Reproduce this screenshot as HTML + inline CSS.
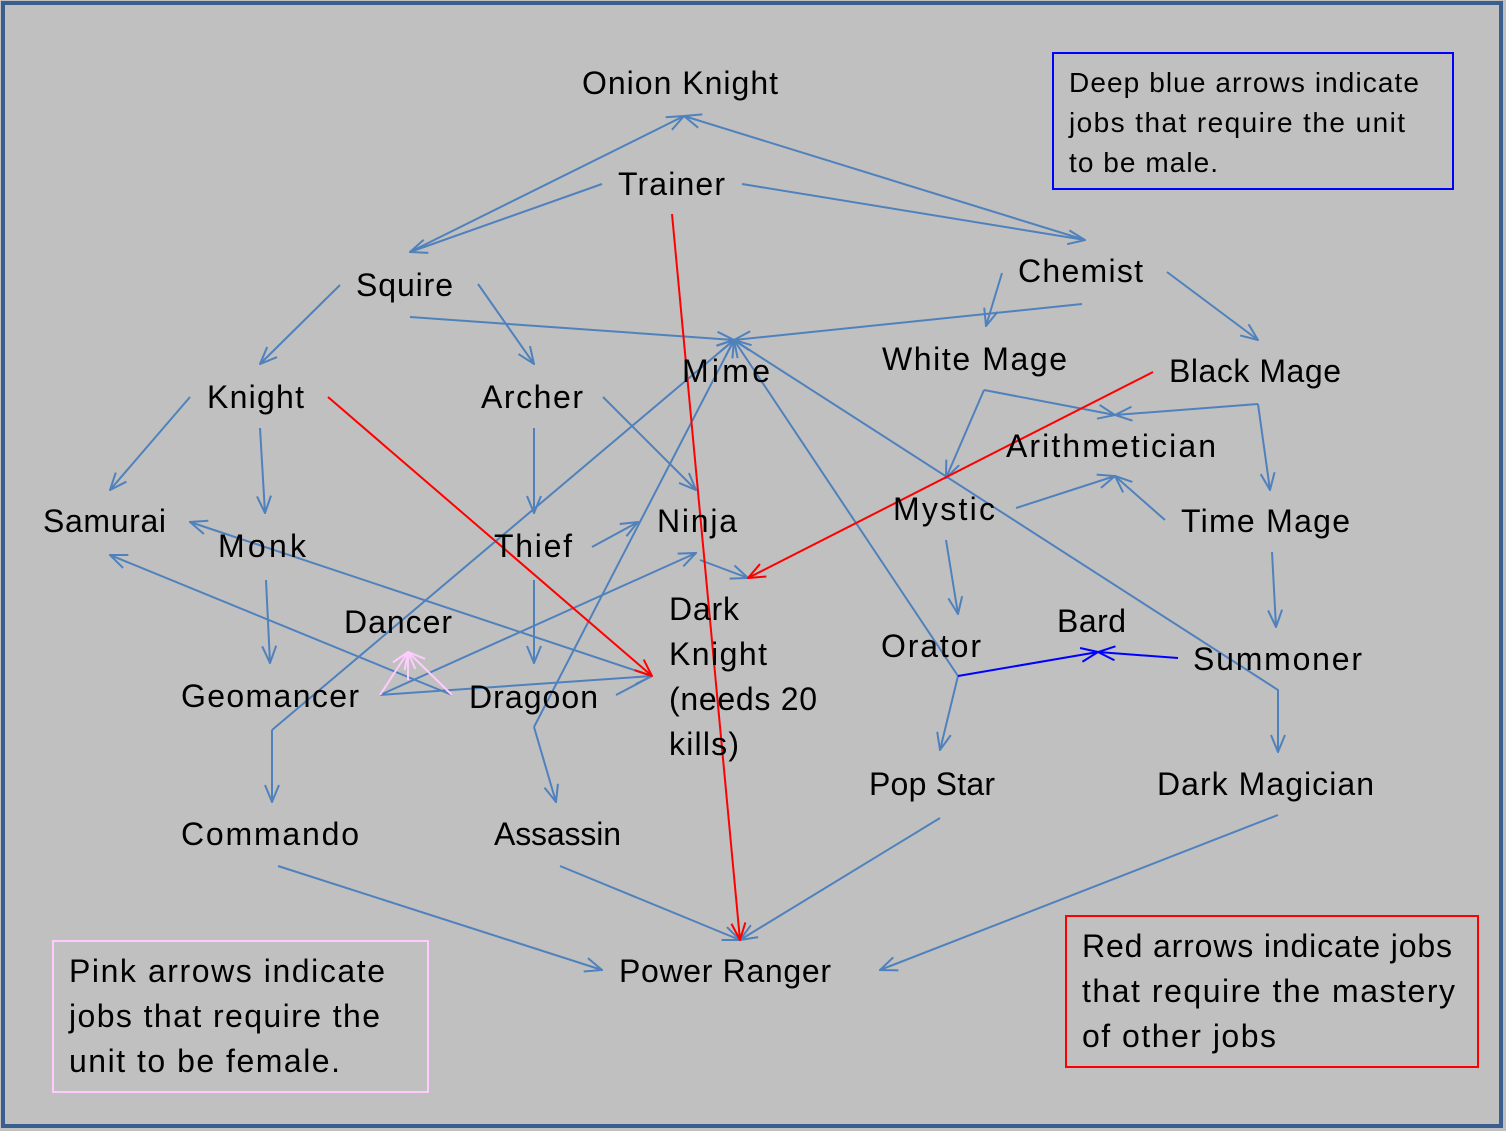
<!DOCTYPE html>
<html><head><meta charset="utf-8"><style>
html,body{margin:0;padding:0;background:#c0c0c0;}
svg{display:block;}
text{font-family:"Liberation Sans",sans-serif;font-size:32px;fill:#000;}
.b{font-size:28px;}
</style></head><body>
<svg width="1506" height="1131" viewBox="0 0 1506 1131" xmlns="http://www.w3.org/2000/svg">
<defs>
<marker id="a" viewBox="0 0 20 20" refX="19" refY="10" markerWidth="20" markerHeight="20" markerUnits="userSpaceOnUse" orient="auto"><path d="M2,3 L19,10 L2,17" fill="none" stroke="#4f81bd" stroke-width="2"/></marker>
<marker id="d" viewBox="0 0 20 20" refX="19" refY="10" markerWidth="20" markerHeight="20" markerUnits="userSpaceOnUse" orient="auto"><path d="M2,3 L19,10 L2,17" fill="none" stroke="#0000ff" stroke-width="2"/></marker>
<marker id="r" viewBox="0 0 20 20" refX="19" refY="10" markerWidth="20" markerHeight="20" markerUnits="userSpaceOnUse" orient="auto"><path d="M2,3 L19,10 L2,17" fill="none" stroke="#ff0000" stroke-width="2"/></marker>
<marker id="p" viewBox="0 0 20 20" refX="19" refY="10" markerWidth="20" markerHeight="20" markerUnits="userSpaceOnUse" orient="auto"><path d="M2,3 L19,10 L2,17" fill="none" stroke="#ffccff" stroke-width="2"/></marker>
</defs>
<rect x="0" y="0" width="1506" height="1131" fill="#c0c0c0"/>
<rect x="3" y="3" width="1498" height="1123" fill="none" stroke="#3a5f8f" stroke-width="4"/>

<g stroke="#4f81bd" stroke-width="2" fill="none">
<line x1="410" y1="252" x2="684" y2="116" marker-end="url(#a)"/>
<line x1="602" y1="184" x2="410" y2="252" marker-end="url(#a)"/>
<line x1="1085" y1="240" x2="684" y2="116" marker-end="url(#a)"/>
<line x1="742" y1="184" x2="1085" y2="240" marker-end="url(#a)"/>
<line x1="340" y1="285" x2="260" y2="364" marker-end="url(#a)"/>
<line x1="478" y1="284" x2="534" y2="364" marker-end="url(#a)"/>
<line x1="410" y1="317" x2="734" y2="340" marker-end="url(#a)"/>
<line x1="1082" y1="304" x2="734" y2="340" marker-end="url(#a)"/>
<line x1="1002" y1="273" x2="986" y2="326" marker-end="url(#a)"/>
<line x1="1167" y1="272" x2="1258" y2="340" marker-end="url(#a)"/>
<line x1="190" y1="397" x2="110" y2="490" marker-end="url(#a)"/>
<line x1="260" y1="428" x2="265" y2="513" marker-end="url(#a)"/>
<line x1="534" y1="428" x2="534" y2="513" marker-end="url(#a)"/>
<line x1="603" y1="397" x2="696" y2="490" marker-end="url(#a)"/>
<line x1="592" y1="547" x2="638" y2="522" marker-end="url(#a)"/>
<line x1="534" y1="580" x2="534" y2="663" marker-end="url(#a)"/>
<line x1="266" y1="580" x2="270" y2="663" marker-end="url(#a)"/>
<line x1="652" y1="676" x2="190" y2="522" marker-end="url(#a)"/>
<line x1="452" y1="695" x2="110" y2="555" marker-end="url(#a)"/>
<line x1="380" y1="695" x2="696" y2="553" marker-end="url(#a)"/>
<line x1="380" y1="695" x2="652" y2="676" marker-end="url(#a)"/>
<line x1="616" y1="695" x2="652" y2="676"/>
<line x1="272" y1="730" x2="734" y2="340" marker-end="url(#a)"/>
<line x1="272" y1="730" x2="272" y2="802" marker-end="url(#a)"/>
<line x1="534" y1="727" x2="734" y2="340" marker-end="url(#a)"/>
<line x1="534" y1="727" x2="556" y2="802" marker-end="url(#a)"/>
<line x1="700" y1="560" x2="748" y2="578" marker-end="url(#a)"/>
<line x1="958" y1="676" x2="734" y2="340" marker-end="url(#a)"/>
<line x1="958" y1="676" x2="940" y2="750" marker-end="url(#a)"/>
<polyline points="734,340 1278,690 1278,752" marker-end="url(#a)"/>
<line x1="984" y1="390" x2="946" y2="478" marker-end="url(#a)"/>
<line x1="984" y1="390" x2="1115" y2="415" marker-end="url(#a)"/>
<line x1="1258" y1="404" x2="1115" y2="415" marker-end="url(#a)"/>
<line x1="1258" y1="404" x2="1270" y2="490" marker-end="url(#a)"/>
<line x1="1016" y1="508" x2="1115" y2="476" marker-end="url(#a)"/>
<line x1="1165" y1="520" x2="1115" y2="476" marker-end="url(#a)"/>
<line x1="946" y1="540" x2="958" y2="614" marker-end="url(#a)"/>
<line x1="1272" y1="552" x2="1276" y2="627" marker-end="url(#a)"/>
<line x1="278" y1="866" x2="602" y2="970" marker-end="url(#a)"/>
<line x1="560" y1="866" x2="740" y2="940" marker-end="url(#a)"/>
<line x1="940" y1="818" x2="740" y2="940" marker-end="url(#a)"/>
<line x1="1278" y1="815" x2="880" y2="970" marker-end="url(#a)"/>
</g>
<g stroke="#0000ff" stroke-width="2">
<line x1="958" y1="676" x2="1098" y2="652" marker-end="url(#d)"/>
<line x1="1178" y1="658" x2="1098" y2="652" marker-end="url(#d)"/>
</g>
<g stroke="#ff0000" stroke-width="2">
<line x1="672" y1="214" x2="740" y2="940" marker-end="url(#r)"/>
<line x1="328" y1="397" x2="652" y2="676" marker-end="url(#r)"/>
<line x1="1153" y1="372" x2="748" y2="578" marker-end="url(#r)"/>
</g>
<g stroke="#ffccff" stroke-width="2">
<line x1="380" y1="695" x2="408" y2="652" marker-end="url(#p)"/>
<line x1="452" y1="695" x2="408" y2="652" marker-end="url(#p)"/>
<line x1="408" y1="680" x2="408" y2="652"/>
</g>

<text x="582" y="94" textLength="196">Onion Knight</text>
<text x="618" y="195" textLength="107">Trainer</text>
<text x="356" y="296" textLength="97">Squire</text>
<text x="1018" y="282" textLength="125">Chemist</text>
<text x="682" y="382" textLength="88">Mime</text>
<text x="882" y="370" textLength="185">White Mage</text>
<text x="1169" y="382" textLength="172">Black Mage</text>
<text x="207" y="408" textLength="97">Knight</text>
<text x="481" y="408" textLength="102">Archer</text>
<text x="1006" y="457" textLength="210">Arithmetician</text>
<text x="43" y="532" textLength="123">Samurai</text>
<text x="218" y="557" textLength="88">Monk</text>
<text x="494" y="557" textLength="78">Thief</text>
<text x="657" y="532" textLength="80">Ninja</text>
<text x="893" y="520" textLength="102">Mystic</text>
<text x="1181" y="532" textLength="169">Time Mage</text>
<text x="344" y="633" textLength="108">Dancer</text>
<text x="669" y="620" textLength="70">Dark</text>
<text x="669" y="665" textLength="98">Knight</text>
<text x="669" y="710" textLength="148">(needs 20</text>
<text x="669" y="755" textLength="70">kills)</text>
<text x="1057" y="632" textLength="69">Bard</text>
<text x="881" y="657" textLength="100">Orator</text>
<text x="1193" y="670" textLength="169">Summoner</text>
<text x="181" y="707" textLength="178">Geomancer</text>
<text x="469" y="708" textLength="129">Dragoon</text>
<text x="869" y="795" textLength="126">Pop Star</text>
<text x="1157" y="795" textLength="217">Dark Magician</text>
<text x="181" y="845" textLength="178">Commando</text>
<text x="494" y="845" textLength="127">Assassin</text>
<text x="619" y="982" textLength="212">Power Ranger</text>

<rect x="1053" y="53" width="400" height="136" fill="none" stroke="#0000ff" stroke-width="2"/>
<text class="b" x="1069" y="92" textLength="350">Deep blue arrows indicate</text>
<text class="b" x="1069" y="132" textLength="336">jobs that require the unit</text>
<text class="b" x="1069" y="172" textLength="149">to be male.</text>

<rect x="53" y="941" width="375" height="151" fill="none" stroke="#ffccff" stroke-width="2"/>
<text x="69" y="982" textLength="316">Pink arrows  indicate</text>
<text x="69" y="1027" textLength="311">jobs that require the</text>
<text x="69" y="1072" textLength="271">unit to be female.</text>

<rect x="1066" y="916" width="412" height="151" fill="none" stroke="#ff0000" stroke-width="2"/>
<text x="1082" y="957" textLength="370">Red arrows indicate jobs</text>
<text x="1082" y="1002" textLength="373">that require the mastery</text>
<text x="1082" y="1047" textLength="194">of other jobs</text>
</svg>
</body></html>
